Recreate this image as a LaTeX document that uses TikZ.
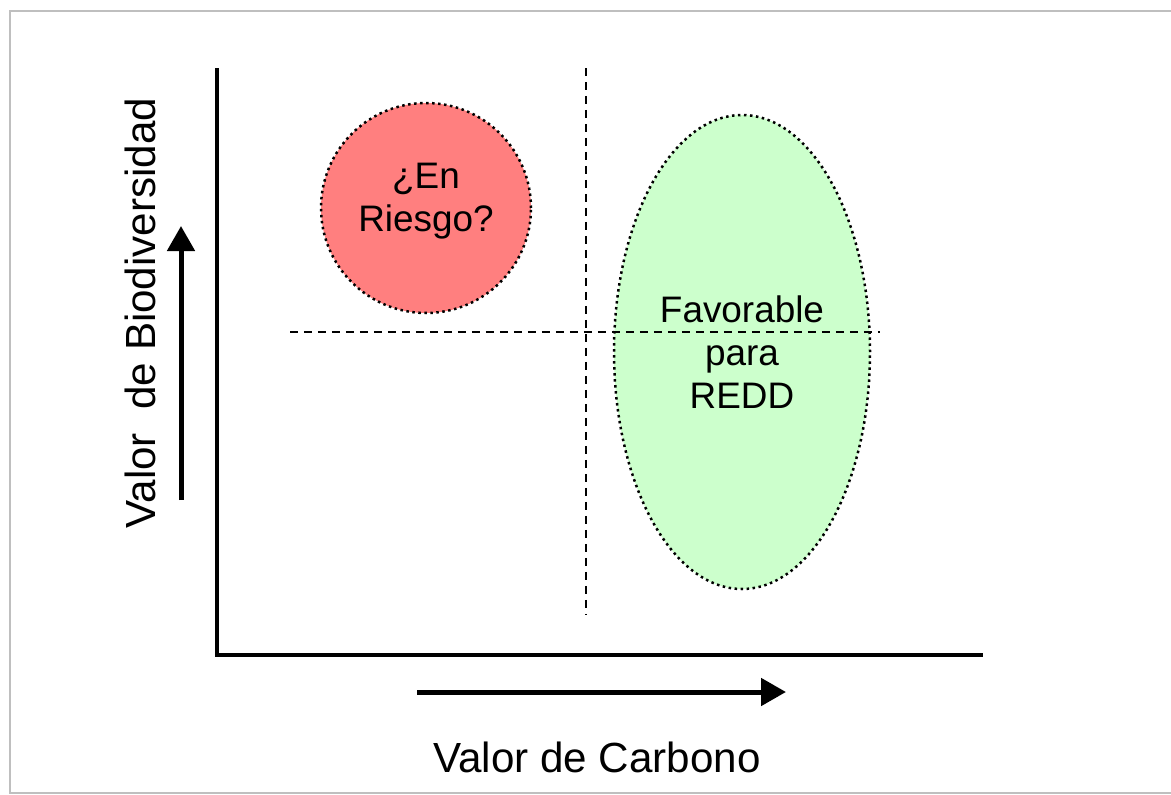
\documentclass[tikz,border=0pt]{standalone}
\usepackage{fontspec}
\setmainfont{Liberation Sans}
\usetikzlibrary{shapes.geometric,arrows.meta}
\definecolor{riesgored}{HTML}{FF7F7F}
\definecolor{reddgreen}{HTML}{CCFFCC}
\tikzset{
 axisline/.style={line width=0.065cm},
 guideline/.style={line width=0.035cm,dash pattern=on 0.16cm off 0.12cm},
 bigarrow/.style={line width=0.1cm,-{Triangle[length=0.5cm,width=0.54cm]}},
 zone/.style={draw,dotted,line width=0.05cm,inner sep=0pt,align=center,font=\fontsize{21}{24.5}\selectfont},
 axislabel/.style={font=\fontsize{24}{28}\selectfont}
}
\begin{document}
\begin{tikzpicture}[x=0.02cm,y=-0.02cm]
\useasboundingbox (0,0) rectangle (1171,795);
\draw[black!25,line width=0.04cm] (1171,11) -- (10,11) -- (10,793) -- (1171,793);
% axes
\coordinate (top) at (217,68);
\coordinate (origin) at (217,655);
\coordinate (right) at (983,655);
\draw[axisline] (top) -- (origin) -- (right);
% zones
\node[zone,circle,fill=riesgored,minimum size=0.02cm*210] (riesgo) at (426,208) {};
\node[align=center,font=\fontsize{21}{24.5}\selectfont] (riesgotxt) at (426,201) {¿En\\Riesgo?};
\node[zone,ellipse,fill=reddgreen,minimum width=0.02cm*256,minimum height=0.02cm*474] (redd) at (742,352) {Favorable\\para\\REDD};
% quadrant lines
\coordinate (vtop) at (586,68);
\coordinate (vbot) at (586,615);
\coordinate (hleft) at (290,332);
\coordinate (hright) at (880,332);
\draw[guideline] (vtop) -- (vbot);
\draw[guideline] (hleft) -- (hright);
% direction arrows
\coordinate (ya) at (181,500);
\coordinate (yb) at (181,226);
\coordinate (xa) at (417,692);
\coordinate (xb) at (786,692);
\draw[bigarrow] (ya) -- (yb);
\draw[bigarrow] (xa) -- (xb);
\node[axislabel] (carbono) at (597,757) {Valor de Carbono};
\node[axislabel,rotate=90] (biodiv) at (140,313) {Valor \ de Biodiversidad};
\end{tikzpicture}
\end{document}
